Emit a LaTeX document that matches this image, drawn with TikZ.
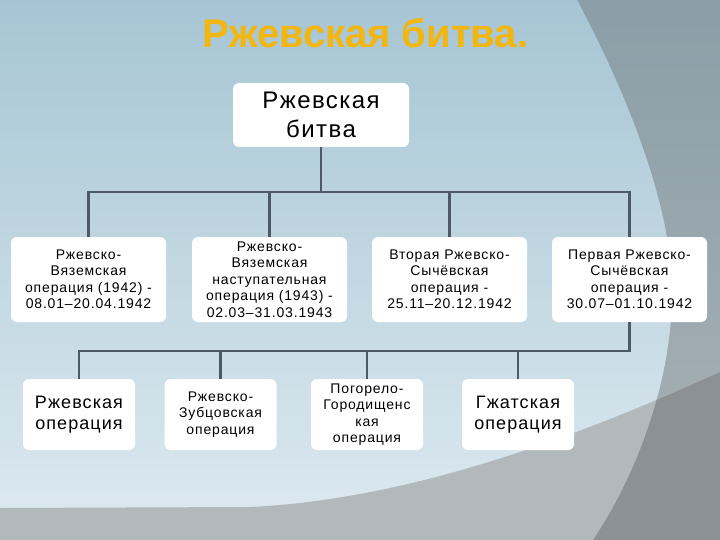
\documentclass[tikz,border=0pt]{standalone}
\usepackage{fontspec}
\setmainfont{Liberation Sans}
\newfontfamily\boxfont[LetterSpace=6]{Liberation Sans}
\usetikzlibrary{positioning,calc}
\definecolor{skyblue}{RGB}{166,197,212}
\definecolor{mist}{RGB}{222,234,240}
\definecolor{slate}{RGB}{139,158,167}
\definecolor{fog}{RGB}{170,178,182}
\definecolor{ash}{RGB}{177,185,188}
\definecolor{graphite}{RGB}{139,145,148}
\definecolor{wire}{RGB}{76,90,101}
\definecolor{gold}{RGB}{242,182,14}

\tikzset{
  card/.style={fill=white,rounded corners=6pt,align=center,inner sep=1pt},
  link/.style={draw=wire,line width=2.4pt},
}

\begin{document}
\begin{tikzpicture}[x=1pt,y=-1pt]
    \useasboundingbox (0,0) rectangle (720,540);
    % backdrop
    \shade[top color=slate,bottom color=fog] (0,0) rectangle (720,540);
    \shade[top color=skyblue,bottom color=mist] (0,0) -- (577,0) .. controls (625,90) and (675,210) .. (672,300) .. controls (670,380) and (640,470) .. (593,540) -- (0,540) -- cycle;
    \begin{scope}
      \clip (0,508) -- (250,507) .. controls (400,500) and (560,445) .. (720,372) -- (720,540) -- (0,540) -- cycle;
      \fill[ash] (0,0) rectangle (720,540);
      \fill[graphite] (577,0) .. controls (625,90) and (675,210) .. (672,300) .. controls (670,380) and (640,470) .. (593,540) -- (720,540) -- (720,0) -- cycle;
    \end{scope}

    % heading
    \node[text=gold,font=\fontsize{40}{48}\selectfont\bfseries] (title) at (365.5,33) {Ржевская битва.};

    \node[card,minimum width=176pt,minimum height=64pt,font=\boxfont\fontsize{24}{29}\selectfont] (battle) at (321,115) {Ржевская\\битва};

    \foreach \i/\x/\t in {
      1/88.5/Ржевско-\\Вяземская\\операция (1942) -\\08.01–20.04.1942,
      2/269.5/Ржевско-\\Вяземская\\наступательная\\операция (1943)  -\\02.03–31.03.1943,
      3/449.5/Вторая Ржевско-\\Сычёвская\\операция -\\25.11–20.12.1942,
      4/629.5/Первая Ржевско-\\Сычёвская\\операция -\\30.07–01.10.1942}
    {
      \node[card,minimum width=155pt,minimum height=85pt,font=\boxfont\fontsize{14}{16.5}\selectfont] (op\i) at (\x,279.5) {\t};
      \draw[link] (battle.south) -- ++(0,45) -| (op\i.north);
    }

    \foreach \j/\x/\f/\s/\t in {
      1/79/18/21/Ржевская\\операция,
      2/220.5/14/16.5/Ржевско-\\Зубцовская\\операция,
      3/367/14/16.5/Погорело-\\Городищенс\\кая\\операция,
      4/518/18/21/Гжатская\\операция}
    {
      \node[card,minimum width=112pt,minimum height=71pt,font=\boxfont\fontsize{\f}{\s}\selectfont] (sub\j) at (\x,414.5) {\t};
      \draw[link] (op4.south) -- ++(0,28.5) -| (sub\j.north);
    }
  \end{tikzpicture}
\end{document}
